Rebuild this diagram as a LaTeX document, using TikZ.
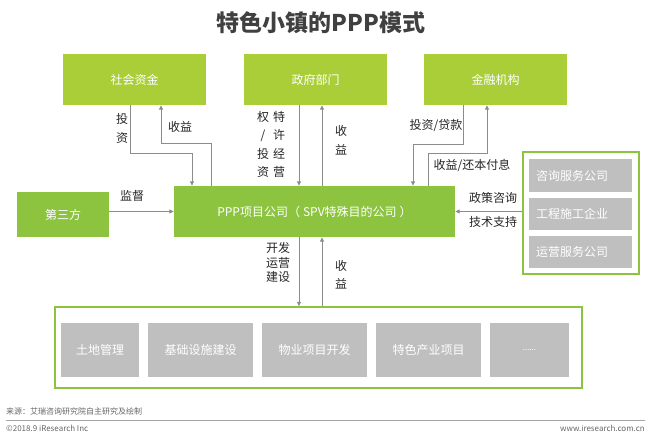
\documentclass[tikz,border=0pt]{standalone}
\usepackage{fontspec}
\setmainfont{Noto Sans CJK SC}
\usepackage{xcolor}
\usepackage{tikz}
\usetikzlibrary{positioning}
\usetikzlibrary{arrows.meta}

\definecolor{limegreen}{RGB}{170,206,56}
\definecolor{pppgreen}{RGB}{140,196,64}
\definecolor{boxgray}{RGB}{191,191,191}
\definecolor{arrowgray}{RGB}{140,140,140}
\definecolor{labeltext}{RGB}{38,38,38}

\begin{document}
\begin{tikzpicture}[x=1pt,y=-1pt,
  topbox/.style={fill=limegreen, text=white, minimum width=143pt, minimum height=51pt, inner sep=0pt, font=\fontsize{12}{14}\selectfont},
  mainbox/.style={fill=pppgreen, text=white, inner sep=0pt, font=\fontsize{12}{14}\selectfont},
  graybox/.style={fill=boxgray, text=white, inner sep=0pt, minimum height=54pt, font=\fontsize{12}{14}\selectfont},
  sidebox/.style={fill=boxgray, text=white, inner sep=7pt, text width=89pt, align=left, minimum height=33pt, font=\fontsize{12}{14}\selectfont},
  frame/.style={draw=pppgreen, line width=1.5pt},
  lbl/.style={text=labeltext, inner sep=0pt, align=center, font=\fontsize{12}{19}\selectfont},
  arr/.style={draw=arrowgray, line width=1pt, -{Triangle[length=4.5pt,width=4pt]}},
  foot/.style={text=black!60, inner sep=0pt, font=\fontsize{8}{9}\selectfont}]
\useasboundingbox[fill=white] (0,0) rectangle (650,438);

\node[text=black!75, font=\fontsize{23}{26}\selectfont\bfseries] (title) at (321,23) {特色小镇的PPP模式};

% top row
\node[topbox] (shehui) at (134.5,79.5) {社会资金};
\node[topbox] (zhengfu) at (315.5,79.5) {政府部门};
\node[topbox] (jinrong) at (495.5,79.5) {金融机构};

% middle row
\node[mainbox, minimum width=281pt, minimum height=51pt] (ppp) at (314.5,211.5) {PPP项目公司（\hspace{3pt}SPV特殊目的公司\hspace{3pt}）};
\node[mainbox, minimum width=92pt, minimum height=45pt] (disanfang) at (63,214.5) {第三方};

\node[frame, minimum width=116pt, minimum height=122pt] (support) at (581,213) {};
\node[sidebox] (zixun) at (580.5,175.5) {咨询服务公司};
\node[sidebox, minimum height=32pt] (gongcheng) at (580.5,214) {工程施工企业};
\node[sidebox, minimum height=32pt] (yunying) at (580.5,252) {运营服务公司};

% bottom row
\node[frame, minimum width=527pt, minimum height=81pt] (projects) at (318.5,347.5) {};
\node[graybox, minimum width=78pt] (tudi) at (100,350) {土地管理};
\node[graybox, minimum width=105pt] (jichu) at (200.5,350) {基础设施建设};
\node[graybox, minimum width=105pt] (wuye) at (314.5,350) {物业项目开发};
\node[graybox, minimum width=105pt] (tese) at (428.5,350) {特色产业项目};
\node[graybox, minimum width=79pt] (more) at (529.5,350) {\fontsize{8}{9}\selectfont ......};

% connectors
\draw[arr] ([xshift=-4.5pt]shehui.south) -- ++(0,48) -| ([xshift=-122.5pt]ppp.north);
\draw[arr] ([xshift=-103.5pt]ppp.north) -- ++(0,-42) -| ([xshift=26.5pt]shehui.south);
\draw[arr] ([xshift=-16.5pt]zhengfu.south) -- ([xshift=-16.5pt]zhengfu.south |- ppp.north);
\draw[arr] ([xshift=7.5pt]ppp.north) -- ([xshift=7.5pt]ppp.north |- zhengfu.south);
\draw[arr] ([xshift=-32.5pt]jinrong.south) -- ++(0,39) -| ([xshift=98.5pt]ppp.north);
\draw[arr] ([xshift=113.5pt]ppp.north) -- ++(0,-32) -| ([xshift=-8.5pt]jinrong.south);
\draw[arr] (disanfang.east |- ppp.west) -- (ppp.west);
\draw[arr] (support.west |- ppp.east) -- (ppp.east);
\draw[arr] ([xshift=-15.5pt]ppp.south) -- ([xshift=-15.5pt]ppp.south |- projects.north);
\draw[arr] ([xshift=7.5pt]ppp.south |- projects.north) -- ([xshift=7.5pt]ppp.south);

% labels
\node[lbl] (touzi) at (122,128.5) {投\\资};
\node[lbl] (shouyi1) at (180,127) {收益};
\node[lbl, font=\fontsize{12}{18.5}\selectfont] (quan) at (263,144.5) {权\\/\\投\\资};
\node[lbl, font=\fontsize{12}{18.5}\selectfont] (texu) at (279,144.5) {特\\许\\经\\营};
\node[lbl] (shouyi2) at (341,140.5) {收\\益};
\node[lbl] (daikuan) at (436,126) {投资/贷款};
\node[lbl] (huanben) at (472,165) {收益/还本付息};
\node[lbl] (jiandu) at (132,196) {监督};
\node[lbl] (zhengce) at (493,198) {政策咨询};
\node[lbl] (jishu) at (493,222) {技术支持};
\node[lbl, font=\fontsize{12}{14.5}\selectfont] (kaifa) at (278,262.5) {开发\\运营\\建设};
\node[lbl, font=\fontsize{12}{18}\selectfont] (shouyi3) at (341,275) {收\\益};

% footer
\node[foot, anchor=west] (source) at (6,411) {来源：艾瑞咨询研究院自主研究及绘制};
\draw[black!35, line width=0.8pt] (source.west |- 0,420) -- (645,420);
\node[foot, anchor=west] (copy) at (6,428.5) {©2018.9 iResearch Inc};
\node[foot, anchor=east] (web) at (645,428.5) {www.iresearch.com.cn};
\end{tikzpicture}
\end{document}
